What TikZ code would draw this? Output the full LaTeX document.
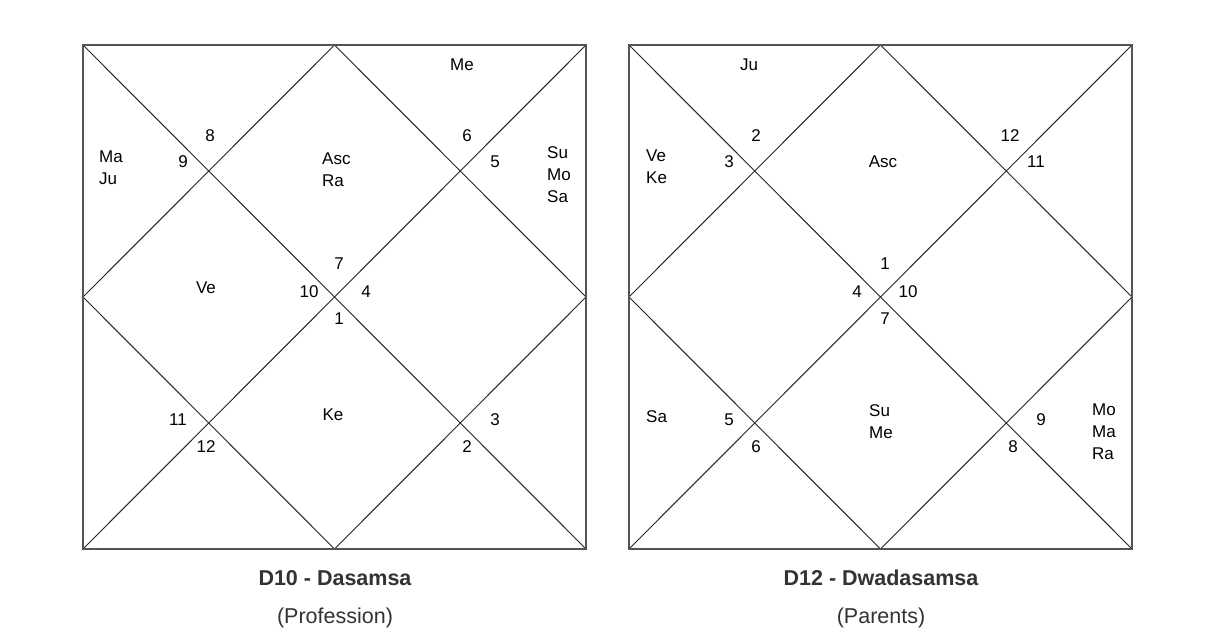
\documentclass[tikz,border=0pt]{standalone}
\usepackage{fontspec}
\setmainfont{Liberation Sans}
\tikzset{
  box/.style={draw=black!67, line width=2pt},
  grid/.style={draw=black!85, line width=1pt},
  planet/.style={inner sep=0pt, align=left, font=\fontsize{17}{22}\selectfont},
  house/.style={inner sep=0pt, font=\fontsize{17}{22}\selectfont},
  title/.style={inner sep=0pt, text=black!80, font=\fontsize{21.5}{26}\selectfont\bfseries},
  subtitle/.style={inner sep=0pt, text=black!80, font=\fontsize{21.5}{26}\selectfont}
}
\begin{document}
\begin{tikzpicture}[x=1pt, y=-1pt]
\useasboundingbox[fill=white] (0,0) rectangle (1215,637);
% D10 chart
\draw[grid] (83,45) -- (586,549);
\draw[grid] (586,45) -- (83,549);
\draw[grid] (334.5,45) -- (586,297) -- (334.5,549) -- (83,297) -- cycle;
\draw[box] (83,45) rectangle (586,549);
\node[planet] (dMe) at (462,65) {Me};
\node[planet, anchor=west] (dMaJu) at (99,168) {Ma\\Ju};
\node[planet, anchor=west] (dAscRa) at (322,170) {Asc\\Ra};
\node[planet, anchor=west] (dSuMoSa) at (547,175) {Su\\Mo\\Sa};
\node[planet] (dVe) at (206,288) {Ve};
\node[planet] (dKe) at (333,415) {Ke};
\node[house] (d8) at (210,136) {8};
\node[house] (d9) at (183,162) {9};
\node[house] (d6) at (467,136) {6};
\node[house] (d5) at (495,162) {5};
\node[house] (d7) at (339,264) {7};
\node[house] (d10) at (309,292) {10};
\node[house] (d4) at (366,292) {4};
\node[house] (d1) at (339,319) {1};
\node[house] (d11) at (178,420) {11};
\node[house] (d12) at (206,447) {12};
\node[house] (d3) at (495,420) {3};
\node[house] (d2) at (467,447) {2};
\node[title] (dTitle) at (335,578) {D10 - Dasamsa};
\node[subtitle] (dSub) at (335,618) {(Profession)};
% D12 chart
\draw[grid] (629,45) -- (1132,549);
\draw[grid] (1132,45) -- (629,549);
\draw[grid] (880.5,45) -- (1132,297) -- (880.5,549) -- (629,297) -- cycle;
\draw[box] (629,45) rectangle (1132,549);
\node[planet] (wJu) at (749,65) {Ju};
\node[planet, anchor=west] (wVeKe) at (646,167) {Ve\\Ke};
\node[planet] (wAsc) at (883,162) {Asc};
\node[planet, anchor=west] (wSa) at (646,417) {Sa};
\node[planet, anchor=west] (wSuMe) at (869,422) {Su\\Me};
\node[planet, anchor=west] (wMoMaRa) at (1092,432) {Mo\\Ma\\Ra};
\node[house] (w2) at (756,136) {2};
\node[house] (w3) at (729,162) {3};
\node[house] (w12) at (1010,136) {12};
\node[house] (w11) at (1036,162) {11};
\node[house] (w1) at (885,264) {1};
\node[house] (w4) at (857,292) {4};
\node[house] (w10) at (908,292) {10};
\node[house] (w7) at (885,319) {7};
\node[house] (w5) at (729,420) {5};
\node[house] (w6) at (756,447) {6};
\node[house] (w9) at (1041,420) {9};
\node[house] (w8) at (1013,447) {8};
\node[title] (wTitle) at (881,578) {D12 - Dwadasamsa};
\node[subtitle] (wSub) at (881,618) {(Parents)};
\end{tikzpicture}
\end{document}
